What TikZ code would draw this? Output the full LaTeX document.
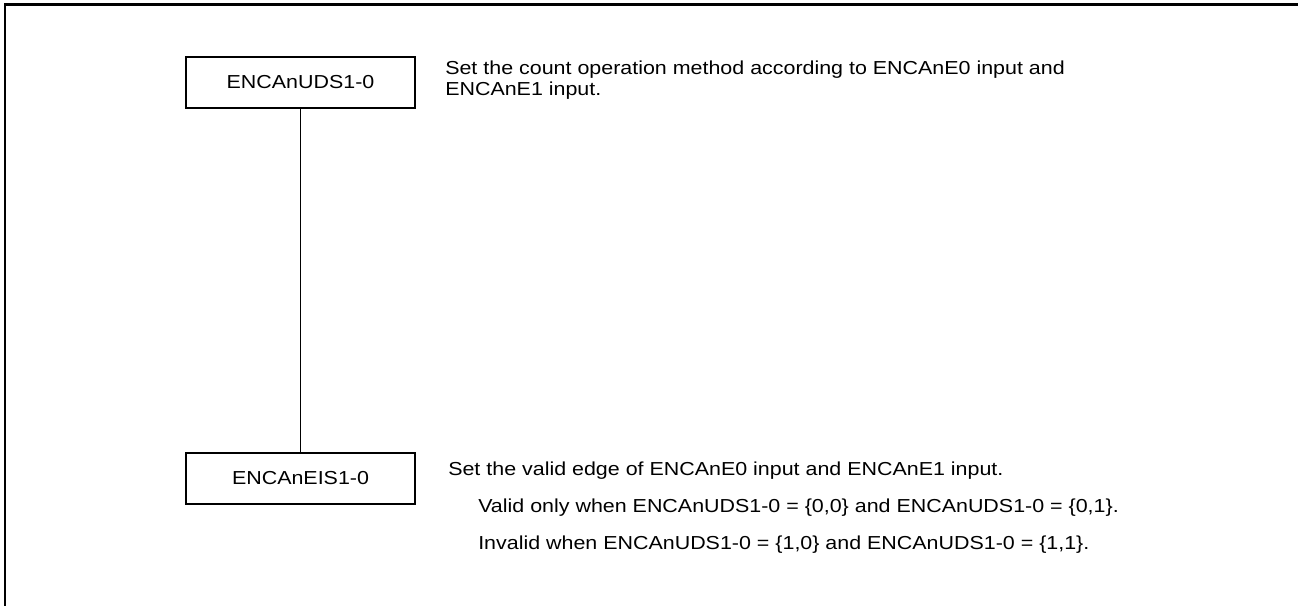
\documentclass[tikz,border=0pt]{standalone}
\usepackage{fontspec}
\setmainfont{Liberation Sans}[FakeStretch=1.14]
\usetikzlibrary{positioning}

\begin{document}
\begin{tikzpicture}[
    x=0.75pt, y=-0.75pt,
    every node/.style={font=\fontsize{14.1}{15.75}\selectfont},
    regbox/.style={draw, line width=1.5pt, minimum width=171.5pt, minimum height=38pt, inner sep=0pt},
    desc/.style={anchor=base west, inner sep=0pt}
]
\useasboundingbox (0,0) rectangle (1298,606);
% frame (only top and left edges show)
\draw[line width=1.6pt] (1300,4.5) -- (5,4.5) -- (5,608);

% bit fields
\node[regbox] (uds) at (300.5,82.5) {ENCAnUDS1-0};
\node[regbox] (eis) at (300.5,478.5) {ENCAnEIS1-0};
\draw[line width=0.75pt] (uds.south) -- (eis.north);

% descriptions
\node[desc] (udsA) at (445,75) {Set the count operation method according to ENCAnE0 input and};
\node[desc] (udsB) at (445,96) {ENCAnE1 input.};

\node[desc] (eisA) at (448,475) {Set the valid edge of ENCAnE0 input and ENCAnE1 input.};
\node[desc] (eisB) at (478,512) {Valid only when ENCAnUDS1-0 = \{0,0\} and ENCAnUDS1-0 = \{0,1\}.};
\node[desc] (eisC) at (478,549) {Invalid when ENCAnUDS1-0 = \{1,0\} and ENCAnUDS1-0 = \{1,1\}.};
\end{tikzpicture}
\end{document}
